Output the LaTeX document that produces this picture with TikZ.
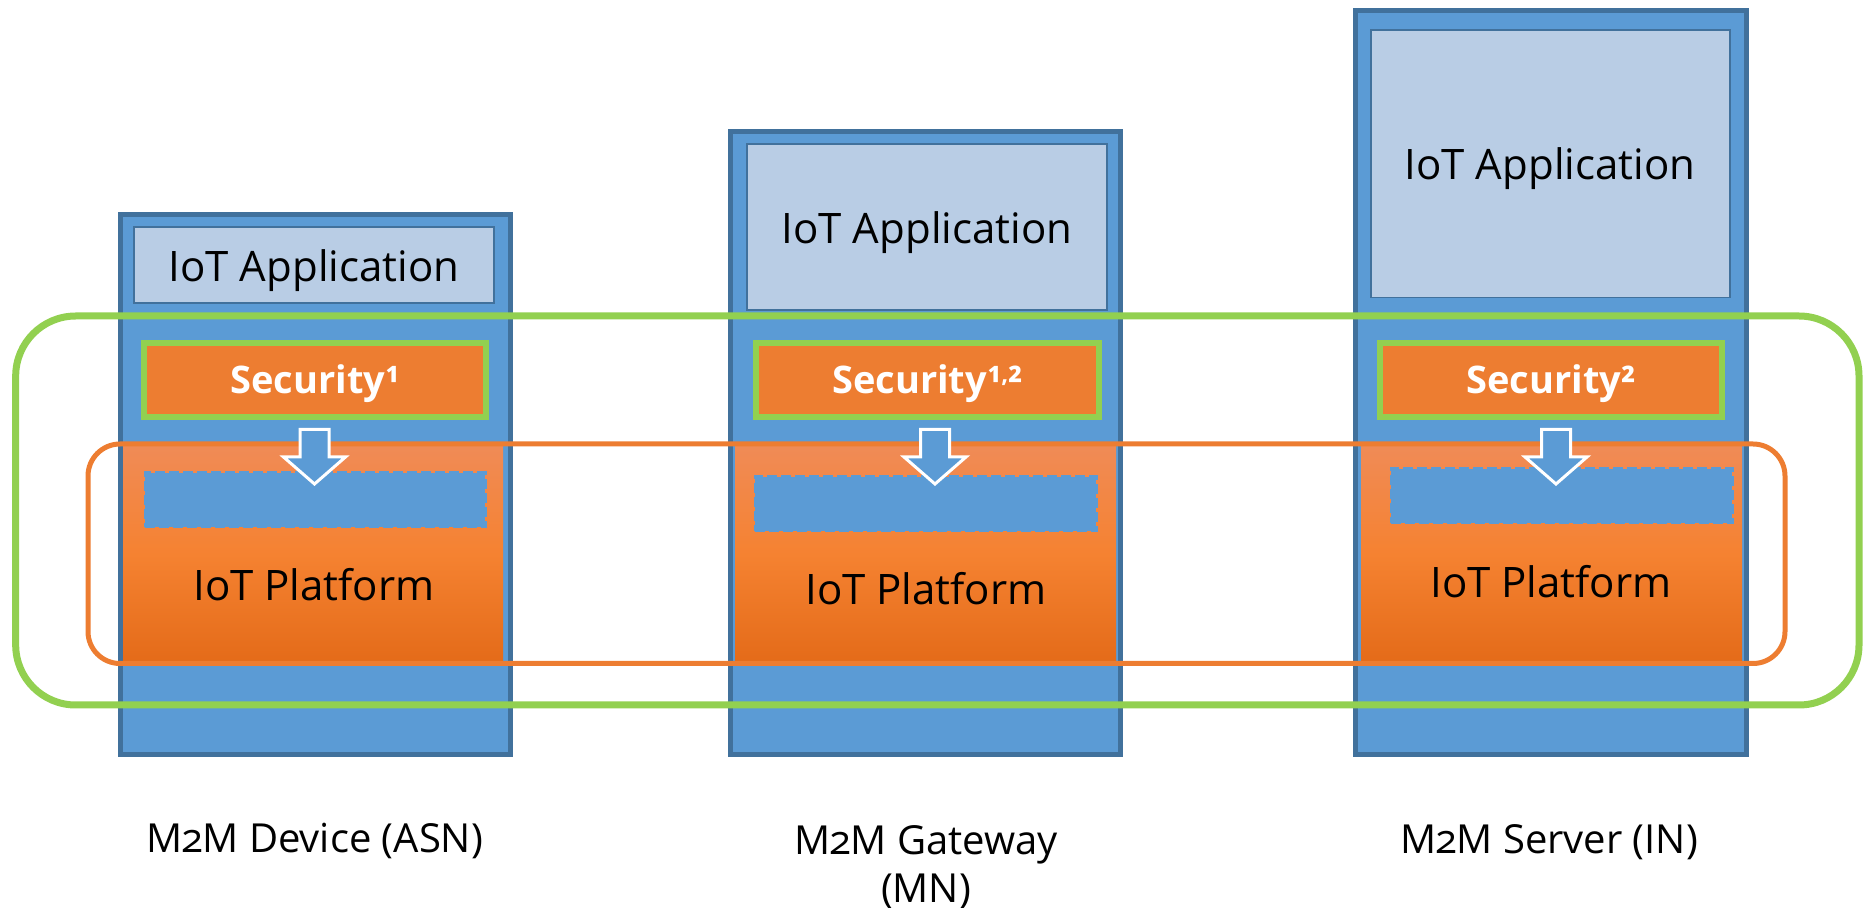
\documentclass[tikz,border=0pt]{standalone}
\usepackage{fontspec}
\setmainfont[Numbers=OldStyle]{Open Sans}
\usetikzlibrary{fit}
\definecolor{colfill}{HTML}{5B9BD5}
\definecolor{colborder}{HTML}{41719C}
\definecolor{appfill}{HTML}{B9CDE5}
\definecolor{secfill}{HTML}{ED7D31}
\definecolor{grn}{HTML}{92D050}
\definecolor{org}{HTML}{ED7D31}
\definecolor{platTop}{HTML}{F08B56}
\definecolor{platMid}{HTML}{F58231}
\definecolor{platBot}{HTML}{E46B19}
\tikzset{
  box/.style={rectangle, inner sep=0pt, outer sep=0pt},
  column/.style={box, draw=colborder, fill=colfill, line width=2.5pt},
  appbox/.style={box, draw=colborder, fill=appfill, line width=0.7pt},
  platbox/.style={box, top color=platTop, bottom color=platBot, middle color=platMid},
  dashbox/.style={box, fill=colfill, draw=colfill, line width=1.5pt, dash pattern=on 5pt off 2pt},
  secbox/.style={box, fill=secfill, draw=grn, line width=3pt},
  grnloop/.style={box, draw=grn, line width=3.5pt, rounded corners=30pt},
  orgloop/.style={box, draw=org, line width=2.5pt, rounded corners=16pt},
  bigtxt/.style={anchor=base, inner sep=0pt, font=\fontsize{21}{25}\selectfont},
  sectxt/.style={anchor=base, inner sep=0pt, text=white, font=\fontsize{19}{23}\selectfont\bfseries},
  lbltxt/.style={anchor=base, inner sep=0pt, align=center, font=\fontsize{20}{24}\selectfont},
  blockarr/.pic={\path[fill=colfill, draw=white, line width=1.5pt, line join=miter]
     (-14.5,0) -- (14.5,0) -- (14.5,27.5) -- (31,27.5) -- (0,54.5) -- (-31,27.5) -- (-14.5,27.5) -- cycle;}
}
\newcommand{\supcomma}{\raisebox{0.55ex}{\fontsize{12}{12}\selectfont ,}}
\begin{document}
\begin{tikzpicture}[x=0.5pt,y=-0.5pt]
\useasboundingbox (0,0) rectangle (1864,908);
% columns
\node[column, fit={(120.5,214.5)(510,754.5)}] (devcol) {};
\node[column, fit={(730.5,131.5)(1120.5,754.5)}] (gwcol) {};
\node[column, fit={(1355.5,11)(1746,754.5)}] (srvcol) {};
% application boxes
\node[appbox, fit={(134,227)(494,303)}] (devapp) {};
\node[appbox, fit={(747,144)(1107,310)}] (gwapp) {};
\node[appbox, fit={(1371,30)(1730,297.5)}] (srvapp) {};
% platforms
\node[platbox, fit={(123,446)(503,662)}] (devplat) {};
\node[platbox, fit={(735,446)(1116,662)}] (gwplat) {};
\node[platbox, fit={(1361,446)(1742,662)}] (srvplat) {};
% dashed blue slots
\node[dashbox, fit={(145,473)(485,527)}] (devslot) {};
\node[dashbox, fit={(755,477)(1096,531)}] (gwslot) {};
\node[dashbox, fit={(1391,469)(1732,523)}] (srvslot) {};
% loops
\node[grnloop, fit={(15.7,316)(1859,705)}] (greenloop) {};
\node[orgloop, fit={(88,444)(1785,663.5)}] (orangeloop) {};
% security boxes
\node[secbox, fit={(144,343)(486,417)}] (devsec) {};
\node[secbox, fit={(756,343)(1099,417)}] (gwsec) {};
\node[secbox, fit={(1380,343)(1722,417)}] (srvsec) {};
% arrows
\pic at (314.5,429.5) {blockarr};
\pic at (935,429.5) {blockarr};
\pic at (1556,429.5) {blockarr};
% texts
\node[bigtxt] (devapptxt) at (314,282) {IoT Application};
\node[bigtxt] (gwapptxt) at (927,244) {IoT Application};
\node[bigtxt] (srvapptxt) at (1550,180) {IoT Application};
\node[sectxt] (devsectxt) at (315,394) {Security¹};
\node[sectxt] (gwsectxt) at (927.5,394) {Security¹\supcomma²};
\node[sectxt] (srvsectxt) at (1551,394) {Security²};
\node[bigtxt] (devplattxt) at (314,601) {IoT Platform};
\node[bigtxt] (gwplattxt) at (926,605) {IoT Platform};
\node[bigtxt] (srvplattxt) at (1551,598) {IoT Platform};
\node[lbltxt] (devlbl) at (314.5,852) {M2M Device (ASN)};
\node[lbltxt] (gwlbl) at (926,902) {M2M Gateway\\(MN)};
\node[lbltxt] (srvlbl) at (1549,853) {M2M Server (IN)};
\end{tikzpicture}
\end{document}
